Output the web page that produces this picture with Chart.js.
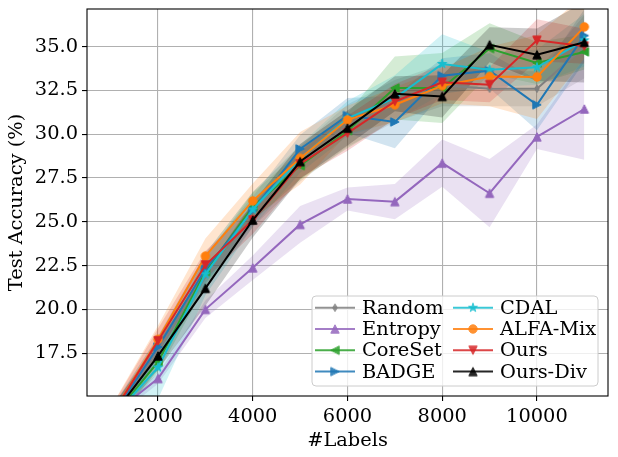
<!DOCTYPE html>
<html>
<head>
<meta charset="utf-8">
<script src="https://cdn.jsdelivr.net/npm/chart.js@4.4.1/dist/chart.umd.min.js"></script>
<style>
html, body { margin: 0; padding: 0; background: #fff; }
canvas { display: block; }
</style>
</head>
<body>
<canvas id="chart" width="618" height="457"></canvas>
<script>
// numero de etiquetas en cada ronda
const labelsX = [1000, 2000, 3000, 4000, 5000, 6000, 7000, 8000, 9000, 10000, 11000];
const xTicks = [2000, 4000, 6000, 8000, 10000];
const yTicks = [17.5, 20.0, 22.5, 25.0, 27.5, 30.0, 32.5, 35.0];

const seriesNames = ['Random', 'Entropy', 'CoreSet', 'BADGE', 'CDAL', 'ALFA-Mix', 'Ours', 'Ours-Div'];

// medias (precision de test, %)
const randomAcc  = [13.8, 17.6, 22.2, 25.7, 28.3, 30.5, 31.9, 32.8, 32.6, 32.6, 35.0];
const entropyAcc = [13.9, 16.05, 20.0, 22.37, 24.85, 26.3, 26.15, 28.35, 26.63, 29.85, 31.44];
const coresetAcc = [13.7, 17.0, 22.15, 25.86, 28.2, 30.2, 32.64, 32.64, 34.89, 34.07, 34.7];
const badgeAcc   = [13.8, 17.85, 22.3, 25.64, 29.16, 31.07, 30.7, 33.34, 33.63, 31.68, 35.63];
const cdalAcc    = [13.7, 16.68, 22.0, 25.7, 28.6, 30.9, 32.06, 34.01, 33.68, 33.82, 35.36];
const alfaAcc    = [13.9, 18.28, 23.04, 26.19, 28.63, 30.82, 31.68, 32.77, 33.3, 33.27, 36.13];
const oursAcc    = [13.87, 18.2, 22.53, 25.1, 28.3, 30.06, 31.87, 32.96, 32.83, 35.36, 35.02];
const oursDivAcc = [13.8, 17.34, 21.2, 25.1, 28.44, 30.35, 32.31, 32.16, 35.11, 34.54, 35.25];

// desvio (ancho de la banda sombreada)
const randomStd  = [0.5, 0.6, 1.0, 1.0, 1.0, 1.2, 1.2, 1.2, 1.0, 1.0, 1.8];
const entropyStd = [0.3, 0.3, 0.5, 0.7, 1.05, 0.65, 1.0, 1.35, 1.95, 0.7, 2.9];
const coresetStd = [0.5, 0.6, 0.8, 0.8, 0.8, 1.0, 1.8, 2.0, 1.45, 1.2, 1.0];
const badgeStd   = [0.5, 0.6, 0.8, 0.8, 0.8, 1.0, 1.5, 1.0, 1.0, 1.45, 1.5];
const cdalStd    = [0.5, 1.8, 1.2, 1.0, 0.8, 1.0, 1.3, 1.7, 1.0, 1.0, 1.5];
const alfaStd    = [0.5, 0.8, 1.0, 1.0, 1.5, 0.8, 1.0, 1.0, 1.7, 2.4, 1.8];
const oursStd    = [0.5, 0.7, 0.8, 0.8, 0.8, 1.0, 1.0, 1.0, 1.0, 1.2, 1.0];
const oursDivStd = [0.5, 0.8, 1.0, 1.0, 1.0, 1.0, 1.0, 1.2, 1.0, 1.5, 2.3];

const means = [randomAcc, entropyAcc, coresetAcc, badgeAcc, cdalAcc, alfaAcc, oursAcc, oursDivAcc];
const stds = [randomStd, entropyStd, coresetStd, badgeStd, cdalStd, alfaStd, oursStd, oursDivStd];

const colors = ['#7f7f7f', '#9467bd', '#2ca02c', '#1f77b4', '#17becf', '#ff7f0e', '#d62728', '#000000'];
const markers = ['d', '^', '<', '>', '*', 'o', 'v', '^'];

const FONT = '"DejaVu Serif", serif';
const FONT_SIZE = 19.4;

function hexToRgba(hex, a) {
    const n = parseInt(hex.slice(1), 16);
    return `rgba(${(n >> 16) & 255}, ${(n >> 8) & 255}, ${n & 255}, ${a})`;
}

// marcadores estilo matplotlib dibujados en un canvas chico
function makeMarker(shape, color) {
    const s = 14;
    const c = document.createElement('canvas');
    c.width = s; c.height = s;
    const g = c.getContext('2d');
    const m = s / 2, r = 4.2;
    g.fillStyle = color;
    g.strokeStyle = color;
    g.lineWidth = 1;
    g.lineJoin = 'miter';
    g.beginPath();
    if (shape === 'o') {
        g.arc(m, m, r, 0, Math.PI * 2);
    } else if (shape === 'd') {
        g.moveTo(m, m - 3.8);
        g.lineTo(m + 2.3, m);
        g.lineTo(m, m + 3.8);
        g.lineTo(m - 2.3, m);
    } else if (shape === '*') {
        for (let k = 0; k < 10; k++) {
            const rr = k % 2 === 0 ? r + 0.5 : (r + 0.5) * 0.382;
            const a = -Math.PI / 2 + k * Math.PI / 5;
            const px = m + rr * Math.cos(a), py = m + rr * Math.sin(a);
            if (k === 0) g.moveTo(px, py); else g.lineTo(px, py);
        }
    } else {
        const rot = { '^': 0, '>': Math.PI / 2, 'v': Math.PI, '<': -Math.PI / 2 }[shape];
        const pts = [[0, -r], [r, r], [-r, r]];
        pts.forEach((p, k) => {
            const px = m + p[0] * Math.cos(rot) - p[1] * Math.sin(rot);
            const py = m + p[0] * Math.sin(rot) + p[1] * Math.cos(rot);
            if (k === 0) g.moveTo(px, py); else g.lineTo(px, py);
        });
    }
    g.closePath();
    g.fill();
    g.stroke();
    return c;
}

const markerImgs = markers.map((mk, i) => makeMarker(mk, colors[i]));

const datasets = [];
// bandas primero (lower, upper con fill hacia la anterior)
means.forEach((arr, i) => {
    datasets.push({
        label: seriesNames[i] + ' low',
        data: labelsX.map((x, k) => ({ x: x, y: arr[k] - stds[i][k] })),
        borderWidth: 0,
        borderColor: 'rgba(0,0,0,0)',
        pointRadius: 0,
        fill: false,
        order: 100 - i,
        clip: 0
    });
    datasets.push({
        label: seriesNames[i] + ' high',
        data: labelsX.map((x, k) => ({ x: x, y: arr[k] + stds[i][k] })),
        borderWidth: 0,
        borderColor: 'rgba(0,0,0,0)',
        backgroundColor: hexToRgba(colors[i], 0.2),
        pointRadius: 0,
        fill: '-1',
        order: 100 - i,
        clip: 0
    });
});
means.forEach((arr, i) => {
    datasets.push({
        label: seriesNames[i],
        data: labelsX.map((x, k) => ({ x: x, y: arr[k] })),
        borderColor: colors[i],
        backgroundColor: colors[i],
        borderWidth: 2,
        pointStyle: markerImgs[i],
        pointRadius: 4,
        fill: false,
        tension: 0,
        order: 10 - i,
        clip: 0
    });
});

// marco de los ejes y leyenda dentro del area
const framePlugin = {
    id: 'frameAndLegend',
    afterDraw(chart) {
        const ctx = chart.ctx;
        const a = chart.chartArea;
        ctx.save();
        ctx.strokeStyle = '#000';
        ctx.lineWidth = 1.1;
        ctx.strokeRect(a.left, a.top, a.right - a.left, a.bottom - a.top);

        const bw = 286, bh = 90;
        const bx = a.right - 10 - bw, by = a.bottom - 10 - bh;
        const rad = 4;
        ctx.beginPath();
        ctx.moveTo(bx + rad, by);
        ctx.arcTo(bx + bw, by, bx + bw, by + bh, rad);
        ctx.arcTo(bx + bw, by + bh, bx, by + bh, rad);
        ctx.arcTo(bx, by + bh, bx, by, rad);
        ctx.arcTo(bx, by, bx + bw, by, rad);
        ctx.closePath();
        ctx.fillStyle = 'rgba(255,255,255,0.8)';
        ctx.fill();
        ctx.strokeStyle = '#cccccc';
        ctx.lineWidth = 1;
        ctx.stroke();

        ctx.font = `${FONT_SIZE}px ${FONT}`;
        ctx.textBaseline = 'middle';
        ctx.textAlign = 'left';
        seriesNames.forEach((name, i) => {
            const col = Math.floor(i / 4), row = i % 4;
            const hx = bx + 3 + col * 138;
            const hy = by + 11.7 + row * 21.3;
            ctx.globalAlpha = 0.85;
            ctx.strokeStyle = colors[i];
            ctx.lineWidth = 2;
            ctx.beginPath();
            ctx.moveTo(hx, hy);
            ctx.lineTo(hx + 40, hy);
            ctx.stroke();
            const img = markerImgs[i];
            ctx.drawImage(img, hx + 20 - img.width / 2, hy - img.height / 2);
            ctx.globalAlpha = 1;
            ctx.fillStyle = '#000';
            ctx.fillText(name, hx + 47, hy + 1);
        });
        ctx.restore();
    }
};

new Chart(document.getElementById('chart').getContext('2d'), {
    type: 'line',
    data: { datasets: datasets },
    options: {
        responsive: false,
        animation: false,
        devicePixelRatio: 1,
        layout: { padding: { left: 0, top: 9, right: 10, bottom: 0 } },
        plugins: {
            legend: { display: false },
            tooltip: { enabled: false },
            filler: { drawTime: 'beforeDatasetDraw' }
        },
        scales: {
            x: {
                type: 'linear',
                min: 500,
                max: 11500,
                afterBuildTicks: scale => { scale.ticks = xTicks.map(v => ({ value: v })); },
                afterFit: scale => {
                    scale.height = 61;
                    scale.paddingLeft = 0;
                    scale.paddingRight = 0;
                },
                ticks: {
                    color: '#000',
                    padding: 4,
                    font: { family: FONT, size: FONT_SIZE },
                    callback: v => String(v)
                },
                grid: { color: '#b0b0b0', lineWidth: 1.1, tickColor: '#000', tickLength: 5 },
                border: { display: false },
                title: {
                    display: true,
                    text: '#Labels',
                    color: '#000',
                    font: { family: FONT, size: FONT_SIZE },
                    padding: { top: 7, bottom: 4 }
                }
            },
            y: {
                min: 15.05,
                max: 37.15,
                afterBuildTicks: scale => { scale.ticks = yTicks.map(v => ({ value: v })); },
                afterFit: scale => {
                    scale.width = 87;
                    scale.paddingTop = 0;
                    scale.paddingBottom = 0;
                },
                ticks: {
                    color: '#000',
                    padding: 4,
                    font: { family: FONT, size: FONT_SIZE },
                    callback: v => Number(v).toFixed(1)
                },
                grid: { color: '#b0b0b0', lineWidth: 1.1, tickColor: '#000', tickLength: 5 },
                border: { display: false },
                title: {
                    display: true,
                    text: 'Test Accuracy (%)',
                    color: '#000',
                    font: { family: FONT, size: FONT_SIZE },
                    padding: { top: 5, bottom: 4 }
                }
            }
        }
    },
    plugins: [framePlugin]
});
</script>
</body>
</html>
